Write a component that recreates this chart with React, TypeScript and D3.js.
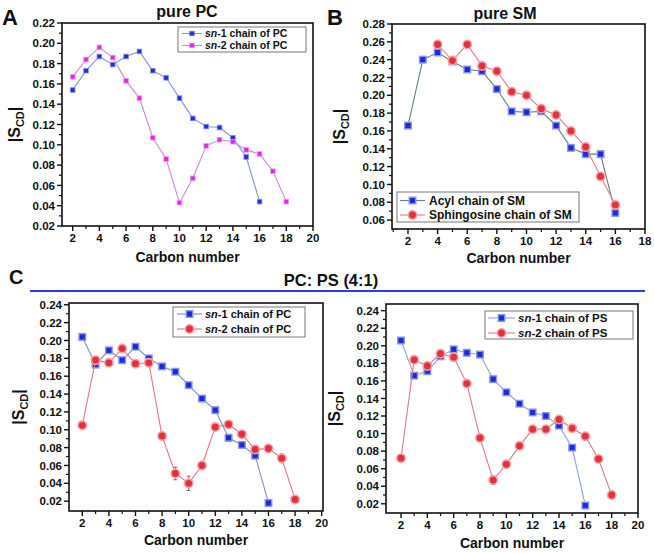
import React from 'react';
import * as d3 from 'd3';

// ---------- DATA ----------
// Panel A: pure PC
const pcSn1Carbons = [2, 3, 4, 5, 6, 7, 8, 9, 10, 11, 12, 13, 14, 15, 16];
const pcSn1Values = [0.154, 0.173, 0.187, 0.179, 0.187, 0.192, 0.173, 0.166, 0.146, 0.126, 0.118, 0.117, 0.107, 0.088, 0.044];
const pcSn2Carbons = [2, 3, 4, 5, 6, 7, 8, 9, 10, 11, 12, 13, 14, 15, 16, 17, 18];
const pcSn2Values = [0.167, 0.184, 0.196, 0.186, 0.163, 0.146, 0.107, 0.086, 0.043, 0.067, 0.099, 0.105, 0.103, 0.095, 0.091, 0.074, 0.044];

// Panel B: pure SM
const smAcylCarbons = [2, 3, 4, 5, 6, 7, 8, 9, 10, 11, 12, 13, 14, 15, 16];
const smAcylValues = [0.166, 0.240, 0.248, 0.238, 0.229, 0.227, 0.207, 0.182, 0.181, 0.182, 0.166, 0.141, 0.134, 0.134, 0.068];
const smAcylErrors = [0.003, 0.003, 0.003, 0.003, 0.003, 0.003, 0.003, 0.003, 0.003, 0.003, 0.003, 0.003, 0.004, 0.004, 0.002];
const smSphCarbons = [4, 5, 6, 7, 8, 9, 10, 11, 12, 13, 14, 15, 16];
const smSphValues = [0.257, 0.239, 0.257, 0.233, 0.227, 0.204, 0.200, 0.185, 0.178, 0.160, 0.142, 0.109, 0.077];
const smSphErrors = [0.003, 0.003, 0.003, 0.003, 0.003, 0.003, 0.003, 0.003, 0.003, 0.003, 0.003, 0.003, 0.003];

// Panel C left: PC in PC:PS (4:1)
const mixPcSn1Carbons = [2, 3, 4, 5, 6, 7, 8, 9, 10, 11, 12, 13, 14, 15, 16];
const mixPcSn1Values = [0.204, 0.173, 0.189, 0.178, 0.193, 0.180, 0.171, 0.165, 0.150, 0.135, 0.122, 0.091, 0.083, 0.071, 0.018];
const mixPcSn1Errors = [0.002, 0.003, 0.002, 0.002, 0.002, 0.002, 0.002, 0.002, 0.002, 0.002, 0.002, 0.002, 0.002, 0.002, 0.002];
const mixPcSn2Carbons = [2, 3, 4, 5, 6, 7, 8, 9, 10, 11, 12, 13, 14, 15, 16, 17, 18];
const mixPcSn2Values = [0.105, 0.178, 0.175, 0.191, 0.174, 0.175, 0.093, 0.051, 0.040, 0.060, 0.103, 0.106, 0.095, 0.078, 0.079, 0.068, 0.022];
const mixPcSn2Errors = [0.002, 0.002, 0.002, 0.003, 0.002, 0.002, 0.002, 0.007, 0.008, 0.002, 0.002, 0.002, 0.002, 0.002, 0.002, 0.005, 0.002];

// Panel C right: PS in PC:PS (4:1)
const mixPsSn1Carbons = [2, 3, 4, 5, 6, 7, 8, 9, 10, 11, 12, 13, 14, 15, 16];
const mixPsSn1Values = [0.206, 0.166, 0.171, 0.188, 0.196, 0.192, 0.190, 0.162, 0.147, 0.134, 0.124, 0.120, 0.109, 0.084, 0.018];
const mixPsSn1Errors = [0.002, 0.002, 0.002, 0.002, 0.002, 0.002, 0.002, 0.002, 0.002, 0.002, 0.002, 0.002, 0.002, 0.002, 0.002];
const mixPsSn2Carbons = [2, 3, 4, 5, 6, 7, 8, 9, 10, 11, 12, 13, 14, 15, 16, 17, 18];
const mixPsSn2Values = [0.072, 0.184, 0.177, 0.191, 0.187, 0.157, 0.095, 0.047, 0.065, 0.086, 0.105, 0.105, 0.116, 0.106, 0.097, 0.071, 0.030];
const mixPsSn2Errors = [0.002, 0.002, 0.002, 0.002, 0.002, 0.002, 0.002, 0.005, 0.004, 0.002, 0.002, 0.002, 0.002, 0.002, 0.002, 0.002, 0.002];

// Ticks
const xTicksTo20 = [2, 4, 6, 8, 10, 12, 14, 16, 18, 20];
const xMinorTo20 = [3, 5, 7, 9, 11, 13, 15, 17, 19];
const xTicksTo18 = [2, 4, 6, 8, 10, 12, 14, 16, 18];
const xMinorTo18 = [1, 3, 5, 7, 9, 11, 13, 15, 17];
const yTicksA = [0.02, 0.04, 0.06, 0.08, 0.10, 0.12, 0.14, 0.16, 0.18, 0.20, 0.22];
const yMinorA = [0.03, 0.05, 0.07, 0.09, 0.11, 0.13, 0.15, 0.17, 0.19, 0.21];
const yTicksB = [0.06, 0.08, 0.10, 0.12, 0.14, 0.16, 0.18, 0.20, 0.22, 0.24, 0.26, 0.28];
const yMinorB = [0.07, 0.09, 0.11, 0.13, 0.15, 0.17, 0.19, 0.21, 0.23, 0.25, 0.27];
const yTicksC = [0.02, 0.04, 0.06, 0.08, 0.10, 0.12, 0.14, 0.16, 0.18, 0.20, 0.22, 0.24];
const yMinorC = [0.01, 0.03, 0.05, 0.07, 0.09, 0.11, 0.13, 0.15, 0.17, 0.19, 0.21, 0.23];

// Labels
const panelTitles = ['pure PC', 'pure SM'];
const groupTitle = 'PC: PS (4:1)';
const xAxisTitle = 'Carbon number';

const FONT = '"Liberation Sans", Arial, Helvetica, sans-serif';

type Marker = 'smallSq' | 'sq' | 'circ' | 'smallSqPink';
interface Series {
  xs: number[];
  ys: number[];
  errs?: number[];
  line: string;
  fill: string;
  halo: string;
  marker: Marker;
  prefix?: string; // italic part
  label: string;
}
interface LegendCfg {
  x: number; y: number; w: number; h: number;
  rowY: number[]; sx1: number; sx2: number; tx: number; fs: number;
}
interface PanelCfg {
  left: number; right: number; top: number; bottom: number;
  xDomain: [number, number]; yDomain: [number, number];
  xTicks: number[]; xMinor: number[]; yTicks: number[]; yMinor: number[];
  series: Series[];
  legend: LegendCfg;
  yLabelX: number; xLabelY: number;
}

function MarkerShape({ m, cx, cy, s }: { m: Marker; cx: number; cy: number; s: Series }) {
  if (m === 'smallSq' || m === 'smallSqPink') {
    return <rect x={cx - 2.3} y={cy - 2.3} width={4.6} height={4.6} fill={s.fill} stroke={s.halo} strokeWidth={0.8} />;
  }
  if (m === 'sq') {
    return <rect x={cx - 3.3} y={cy - 3.3} width={6.6} height={6.6} fill={s.fill} stroke={s.halo} strokeWidth={1.4} />;
  }
  return <circle cx={cx} cy={cy} r={4.2} fill={s.fill} stroke={s.halo} strokeWidth={1.6} />;
}

function Panel({ cfg }: { cfg: PanelCfg }) {
  const x = d3.scaleLinear().domain(cfg.xDomain).range([cfg.left, cfg.right]);
  const y = d3.scaleLinear().domain(cfg.yDomain).range([cfg.bottom, cfg.top]);
  const lineGen = d3.line<number>();
  const cxMid = (cfg.left + cfg.right) / 2;
  const cyMid = (cfg.top + cfg.bottom) / 2;
  const lg = cfg.legend;
  return (
    <g fontFamily={FONT} fontWeight="bold">
      {/* series */}
      {cfg.series.map((s, si) => {
        const pts: [number, number][] = s.xs.map((xv, i) => [x(xv), y(s.ys[i])]);
        const path = d3.line().x((d: any) => d[0]).y((d: any) => d[1])(pts) || '';
        return (
          <g key={si}>
            <path d={path} fill="none" stroke={s.line} strokeWidth={1.1} />
            {s.errs && s.xs.map((xv, i) => {
              const e = s.errs![i];
              const px = x(xv);
              return (
                <g key={'e' + i} stroke="#555" strokeWidth={0.8}>
                  <line x1={px} x2={px} y1={y(s.ys[i] - e)} y2={y(s.ys[i] + e)} />
                  <line x1={px - 2} x2={px + 2} y1={y(s.ys[i] - e)} y2={y(s.ys[i] - e)} />
                  <line x1={px - 2} x2={px + 2} y1={y(s.ys[i] + e)} y2={y(s.ys[i] + e)} />
                </g>
              );
            })}
            {s.xs.map((xv, i) => (
              <MarkerShape key={i} m={s.marker} cx={x(xv)} cy={y(s.ys[i])} s={s} />
            ))}
          </g>
        );
      })}
      {/* frame */}
      <rect x={cfg.left} y={cfg.top} width={cfg.right - cfg.left} height={cfg.bottom - cfg.top}
        fill="none" stroke="#111" strokeWidth={1.6} />
      {/* x ticks */}
      {cfg.xTicks.map((t) => (
        <g key={'xt' + t}>
          <line x1={x(t)} x2={x(t)} y1={cfg.bottom} y2={cfg.bottom + 5} stroke="#111" strokeWidth={1.4} />
          <text x={x(t)} y={cfg.bottom + 16} textAnchor="middle" fontSize={11.5} fill="#111">{t}</text>
        </g>
      ))}
      {cfg.xMinor.filter((t) => x(t) > cfg.left + 1).map((t) => (
        <line key={'xm' + t} x1={x(t)} x2={x(t)} y1={cfg.bottom} y2={cfg.bottom + 3} stroke="#111" strokeWidth={1.2} />
      ))}
      {/* y ticks */}
      {cfg.yTicks.map((t) => (
        <g key={'yt' + t}>
          <line x1={cfg.left - 5} x2={cfg.left} y1={y(t)} y2={y(t)} stroke="#111" strokeWidth={1.4} />
          <text x={cfg.left - 7} y={y(t)} dy="0.36em" textAnchor="end" fontSize={11.5} fill="#111">{t.toFixed(2)}</text>
        </g>
      ))}
      {cfg.yMinor.filter((t) => y(t) < cfg.bottom - 1 && y(t) > cfg.top + 1).map((t) => (
        <line key={'ym' + t} x1={cfg.left - 3} x2={cfg.left} y1={y(t)} y2={y(t)} stroke="#111" strokeWidth={1.2} />
      ))}
      {/* axis titles */}
      <text x={cxMid} y={cfg.xLabelY} textAnchor="middle" fontSize={14} fill="#111">{xAxisTitle}</text>
      <text transform={`translate(${cfg.yLabelX},${cyMid}) rotate(-90)`} textAnchor="middle" fontSize={16} fill="#111">
        |S<tspan fontSize={11} dy={4}>CD</tspan><tspan dy={-4}>|</tspan>
      </text>
      {/* legend */}
      <rect x={lg.x} y={lg.y} width={lg.w} height={lg.h} fill="#fff" stroke="#777" strokeWidth={1} />
      {cfg.series.map((s, si) => (
        <g key={'lg' + si}>
          <line x1={lg.sx1} x2={lg.sx2} y1={lg.rowY[si]} y2={lg.rowY[si]} stroke={s.line} strokeWidth={1.1} />
          <MarkerShape m={s.marker} cx={(lg.sx1 + lg.sx2) / 2} cy={lg.rowY[si]} s={s} />
          <text x={lg.tx} y={lg.rowY[si]} dy="0.36em" fontSize={lg.fs} fill="#111">
            {s.prefix ? <tspan fontStyle="italic">{s.prefix}</tspan> : null}
            {s.label}
          </text>
        </g>
      ))}
    </g>
  );
}

const blueSq = { fill: '#1c2bd6', halo: '#8c95ee' };
const redCirc = { fill: '#e5303c', halo: '#f2a0a8' };

const panelA: PanelCfg = {
  left: 62, right: 313, top: 23, bottom: 226,
  xDomain: [1.2, 20], yDomain: [0.02, 0.22],
  xTicks: xTicksTo20, xMinor: xMinorTo20, yTicks: yTicksA, yMinor: yMinorA,
  series: [
    { xs: pcSn1Carbons, ys: pcSn1Values, line: '#7f93d8', fill: '#1f2fd0', halo: '#7f8ae8', marker: 'smallSq', prefix: 'sn', label: '-1 chain of PC' },
    { xs: pcSn2Carbons, ys: pcSn2Values, line: '#c98ad0', fill: '#e028dc', halo: '#f090ee', marker: 'smallSqPink', prefix: 'sn', label: '-2 chain of PC' },
  ],
  legend: { x: 178, y: 27, w: 128, h: 25, rowY: [33.5, 45.5], sx1: 182, sx2: 202, tx: 205, fs: 10.5 },
  yLabelX: 20, xLabelY: 262,
};

const panelB: PanelCfg = {
  left: 392, right: 645, top: 24, bottom: 229,
  xDomain: [0.92, 18], yDomain: [0.05, 0.28],
  xTicks: xTicksTo18, xMinor: xMinorTo18, yTicks: yTicksB, yMinor: yMinorB,
  series: [
    { xs: smAcylCarbons, ys: smAcylValues, errs: smAcylErrors, line: '#5f8478', ...blueSq, marker: 'sq', label: 'Acyl chain of SM' },
    { xs: smSphCarbons, ys: smSphValues, errs: smSphErrors, line: '#e07c86', ...redCirc, marker: 'circ', label: 'Sphingosine chain of SM' },
  ],
  legend: { x: 397, y: 192, w: 182, h: 30, rowY: [200.5, 215], sx1: 400, sx2: 425, tx: 429, fs: 12 },
  yLabelX: 345, xLabelY: 263,
};

const panelC1: PanelCfg = {
  left: 69, right: 323, top: 303, bottom: 511,
  xDomain: [1, 20.1], yDomain: [0.009, 0.242],
  xTicks: xTicksTo20, xMinor: xMinorTo20, yTicks: yTicksC, yMinor: yMinorC,
  series: [
    { xs: mixPcSn1Carbons, ys: mixPcSn1Values, errs: mixPcSn1Errors, line: '#7d90b4', ...blueSq, marker: 'sq', prefix: 'sn', label: '-1 chain of PC' },
    { xs: mixPcSn2Carbons, ys: mixPcSn2Values, errs: mixPcSn2Errors, line: '#e27686', ...redCirc, marker: 'circ', prefix: 'sn', label: '-2 chain of PC' },
  ],
  legend: { x: 173, y: 307, w: 132, h: 30, rowY: [314, 329], sx1: 177, sx2: 202, tx: 205, fs: 11 },
  yLabelX: 24, xLabelY: 545,
};

const panelC2: PanelCfg = {
  left: 386, right: 638, top: 304, bottom: 513,
  xDomain: [0.86, 20], yDomain: [0.0095, 0.2476],
  xTicks: xTicksTo20, xMinor: xMinorTo20, yTicks: yTicksC, yMinor: yMinorC,
  series: [
    { xs: mixPsSn1Carbons, ys: mixPsSn1Values, errs: mixPsSn1Errors, line: '#8b9ee8', ...blueSq, marker: 'sq', prefix: 'sn', label: '-1 chain of PS' },
    { xs: mixPsSn2Carbons, ys: mixPsSn2Values, errs: mixPsSn2Errors, line: '#d97c8c', ...redCirc, marker: 'circ', prefix: 'sn', label: '-2 chain of PS' },
  ],
  legend: { x: 485, y: 311, w: 148, h: 28, rowY: [318, 333], sx1: 488, sx2: 515, tx: 518, fs: 11.5 },
  yLabelX: 340, xLabelY: 548,
};

export default function App() {
  return (
    <svg width={654} height={553} viewBox="0 0 654 553"
      style={{ position: 'absolute', left: 0, top: 0, background: '#fff' }}>
      <rect x={0} y={0} width={654} height={553} fill="#fff" />
      <g fontFamily={FONT} fontWeight="bold" fill="#111">
        <text x={2} y={25} fontSize={22}>A</text>
        <text x={327} y={25} fontSize={22}>B</text>
        <text x={9} y={284} fontSize={20}>C</text>
        <text x={187} y={17} textAnchor="middle" fontSize={16}>{panelTitles[0]}</text>
        <text x={505} y={19} textAnchor="middle" fontSize={16}>{panelTitles[1]}</text>
        <text x={331} y={286} textAnchor="middle" fontSize={16.5}>{groupTitle}</text>
      </g>
      <line x1={30} x2={645} y1={291} y2={291} stroke="#2a3ee6" strokeWidth={2.2} />
      <Panel cfg={panelA} />
      <Panel cfg={panelB} />
      <Panel cfg={panelC1} />
      <Panel cfg={panelC2} />
    </svg>
  );
}
